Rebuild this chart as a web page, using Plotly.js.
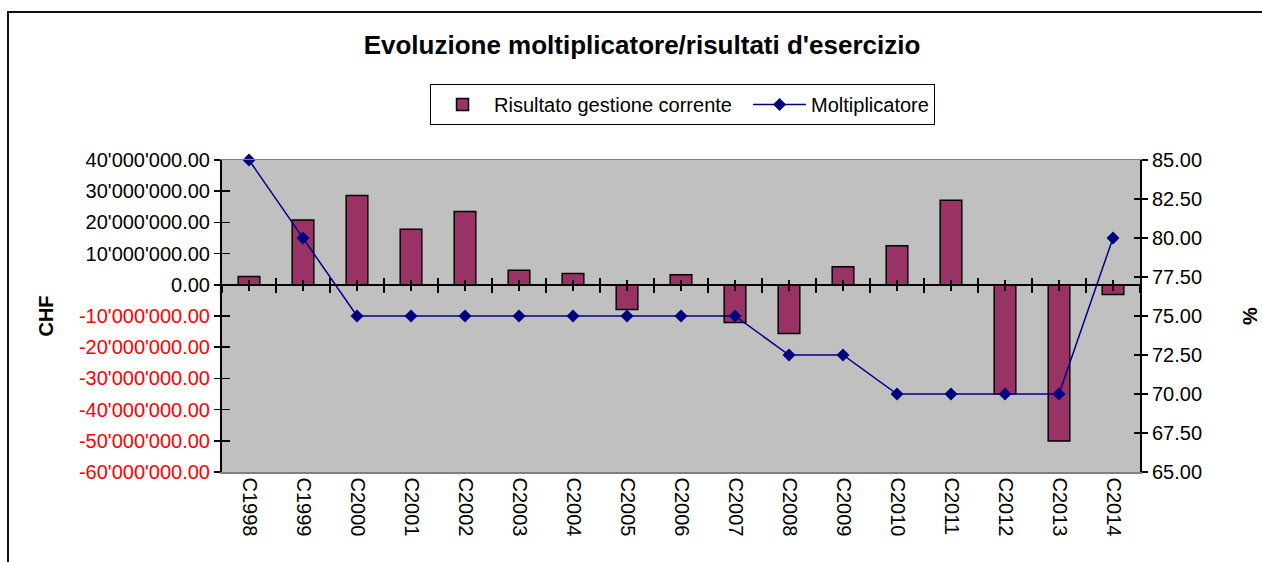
<!DOCTYPE html>
<html>
<head>
<meta charset="utf-8">
<script src="https://cdn.plot.ly/plotly-3.0.1.min.js"></script>
<style>
  html, body { margin: 0; padding: 0; background: #ffffff; }
  #wrap { position: relative; width: 1262px; height: 562px; overflow: hidden; }
  #frame { position: absolute; left: 7px; top: 11px; width: 1300px; height: 600px;
           border-left: 2px solid #111; border-top: 2px solid #111; pointer-events: none; }
  #chart { position: absolute; left: 0; top: 0; width: 1262px; height: 562px; }
</style>
</head>
<body>
<div id="wrap">
  <div id="chart"></div>
  <div id="frame"></div>
</div>
<script>
const categories = ["C1998","C1999","C2000","C2001","C2002","C2003","C2004","C2005","C2006",
                    "C2007","C2008","C2009","C2010","C2011","C2012","C2013","C2014"];
const risultato = [2700000, 20800000, 28600000, 17800000, 23500000, 4700000, 3600000, -7900000,
                   3200000, -12100000, -15600000, 5800000, 12500000, 27100000, -34900000, -50100000, -3100000];
const moltiplicatore = [85, 80, 75, 75, 75, 75, 75, 75, 75, 75, 72.5, 72.5, 70, 70, 70, 70, 80];
const leftTicks = [-60000000, -50000000, -40000000, -30000000, -20000000, -10000000, 0,
                   10000000, 20000000, 30000000, 40000000];
const rightTicks = [65, 67.5, 70, 72.5, 75, 77.5, 80, 82.5, 85];

function fmtCHF(v) {
  const s = Math.abs(v).toFixed(2);
  const parts = s.split(".");
  const intPart = parts[0].replace(/\B(?=(\d{3})+(?!\d))/g, "'");
  const txt = (v < 0 ? "-" : "") + intPart + "." + parts[1];
  return v < 0 ? '<span style="color:#ff0000">' + txt + '</span>' : txt;
}

const FONT = "Liberation Sans, Arial, sans-serif";
const nulls = categories.map(() => null);

const traces = [
  {
    type: "bar", name: "Risultato gestione corrente&nbsp;&nbsp;",
    x: categories, y: risultato,
    marker: { color: "#993366", line: { color: "#000000", width: 1.5 } },
    hoverinfo: "x+y"
  },
  {
    type: "scatter", mode: "lines+markers", name: "Moltiplicatore",
    x: categories, y: moltiplicatore, yaxis: "y2", cliponaxis: false,
    line: { color: "#000080", width: 1.5 },
    marker: { symbol: "diamond", size: 10, color: "#000080" }
  },
  // helper traces so that the tick-only overlay axes are drawn
  { type: "scatter", mode: "lines", x: categories, y: nulls, xaxis: "x2", showlegend: false, hoverinfo: "skip" },
  { type: "scatter", mode: "lines", x: categories, y: nulls, xaxis: "x3", showlegend: false, hoverinfo: "skip" },
  { type: "scatter", mode: "lines", x: categories, y: nulls, xaxis: "x4", showlegend: false, hoverinfo: "skip" },
  { type: "scatter", mode: "lines", x: categories, y: nulls, xaxis: "x5", showlegend: false, hoverinfo: "skip" },
  { type: "scatter", mode: "lines", x: categories, y: nulls, yaxis: "y3", showlegend: false, hoverinfo: "skip" },
  { type: "scatter", mode: "lines", x: categories, y: nulls, yaxis: "y4", showlegend: false, hoverinfo: "skip" }
];

const zeroPos = 0.6; // position of the value 0 on the left axis range [-60M, 40M]
const tickAxis = (tickson, ticks, len, showline) => ({
  type: "category", overlaying: "x", anchor: "free", position: zeroPos,
  showticklabels: false, showgrid: false, zeroline: false,
  tickson: tickson, ticks: ticks, ticklen: len, tickwidth: 1.5, tickcolor: "#000000",
  showline: showline, linecolor: "#000000", linewidth: 2,
  range: [-0.5, categories.length - 0.5], fixedrange: true
});

const layout = {
  width: 1262, height: 562,
  margin: { l: 222, r: 122, t: 160, b: 90 },
  paper_bgcolor: "rgba(0,0,0,0)",
  plot_bgcolor: "#c0c0c0",
  font: { family: FONT, size: 20, color: "#000000" },
  separators: ".'",
  bargap: 0.6,
  showlegend: true,
  title: {
    text: "<b>Evoluzione moltiplicatore/risultati d'esercizio</b>",
    font: { family: FONT, size: 26, color: "#000000" },
    xref: "paper", x: 0.4575, xanchor: "center",
    yref: "container", y: 1 - 45 / 562, yanchor: "middle"
  },
  legend: {
    orientation: "h", xref: "paper", yref: "paper",
    x: 0.2266, xanchor: "left", y: 1.2436, yanchor: "top",
    bordercolor: "#000000", borderwidth: 1, bgcolor: "#ffffff",
    font: { family: FONT, size: 20, color: "#000000" },
    traceorder: "normal", itemwidth: 53
  },
  xaxis: {
    type: "category", tickangle: 90, ticks: "", showgrid: false, zeroline: false,
    showline: true, linecolor: "#808080", linewidth: 1.5, mirror: true,
    tickfont: { family: FONT, size: 20 },
    range: [-0.5, categories.length - 0.5], fixedrange: true
  },
  xaxis2: tickAxis("labels", "outside", 5, true),
  xaxis3: tickAxis("boundaries", "outside", 7, false),
  xaxis4: tickAxis("labels", "inside", 5, false),
  xaxis5: tickAxis("boundaries", "inside", 7, false),
  yaxis: {
    range: [-60000000, 40000000], tickmode: "array",
    tickvals: leftTicks, ticktext: leftTicks.map(fmtCHF),
    ticks: "outside", ticklen: 6, tickwidth: 1.5, tickcolor: "#000000",
    showline: true, linecolor: "#000000", linewidth: 2,
    showgrid: false, zeroline: false,
    tickfont: { family: FONT, size: 20 },
    title: { text: "<b>CHF</b>", font: { family: FONT, size: 20 }, standoff: 20 },
    fixedrange: true
  },
  yaxis3: {
    overlaying: "y", side: "left", range: [-60000000, 40000000],
    tickmode: "array", tickvals: leftTicks, showticklabels: false,
    ticks: "inside", ticklen: 8, tickwidth: 1.5, tickcolor: "#000000",
    showline: false, showgrid: false, zeroline: false, fixedrange: true
  },
  yaxis2: {
    overlaying: "y", side: "right", range: [65, 85], tickmode: "array",
    tickvals: rightTicks, tickformat: ".2f",
    ticks: "outside", ticklen: 6, tickwidth: 1.5, tickcolor: "#000000",
    showline: true, linecolor: "#000000", linewidth: 2,
    showgrid: false, zeroline: false,
    tickfont: { family: FONT, size: 20 },
    title: { text: "<b>%</b>", font: { family: FONT, size: 20 }, standoff: 42 },
    fixedrange: true
  },
  yaxis4: {
    overlaying: "y", side: "right", range: [65, 85],
    tickmode: "array", tickvals: rightTicks, showticklabels: false,
    ticks: "inside", ticklen: 6, tickwidth: 1.5, tickcolor: "#000000",
    showline: false, showgrid: false, zeroline: false, fixedrange: true
  }
};

Plotly.newPlot("chart", traces, layout, { displayModeBar: false, staticPlot: true });
</script>
</body>
</html>
